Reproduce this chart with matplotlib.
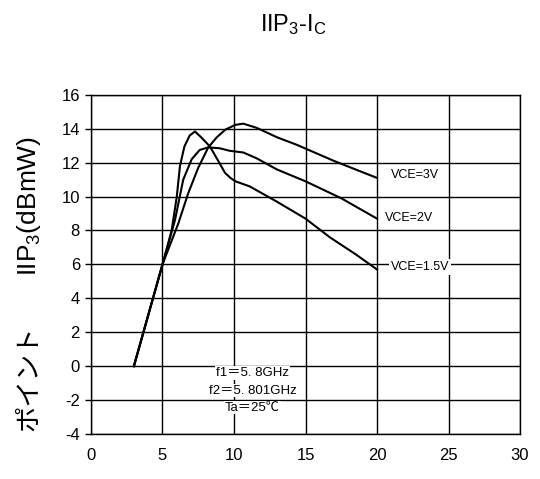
import numpy as np
import matplotlib.pyplot as plt

# IIP3 vs collector current for three VCE values
x_15 = [3, 4, 5, 5.64, 6.0, 6.22, 6.53, 6.9, 7.27, 7.7, 8.32, 8.9, 9.37, 9.75, 10.1, 11.1, 13.0, 15.0, 16.7, 18.5, 20]
y_15 = [0, 3, 6, 8.0, 10.0, 11.8, 12.95, 13.6, 13.84, 13.5, 12.95, 12.1, 11.4, 11.1, 10.9, 10.6, 9.7, 8.7, 7.6, 6.6, 5.7]

x_2 = [3, 4, 5, 5.87, 6.45, 7.04, 7.6, 8.2, 9.0, 9.7, 10.65, 11.6, 13.0, 15.0, 17.5, 20]
y_2 = [0, 3, 6, 8.6, 11.0, 12.2, 12.75, 12.9, 12.85, 12.7, 12.6, 12.25, 11.6, 10.9, 9.9, 8.7]

x_3 = [3, 4, 5, 6.1, 6.8, 7.5, 8.2, 8.8, 9.4, 10.1, 10.65, 11.6, 13.0, 14.4, 17, 20]
y_3 = [0, 3, 6, 8.4, 10.2, 11.7, 12.9, 13.5, 13.95, 14.23, 14.3, 14.05, 13.5, 13.05, 12.1, 11.1]

series_labels = ['VCE=3V', 'VCE=2V', 'VCE=1.5V']
x_ticks = [0, 5, 10, 15, 20, 25, 30]
y_ticks = [-4, -2, 0, 2, 4, 6, 8, 10, 12, 14, 16]
cond_lines = ['f1\uff1d5. 8GHz', 'f2\uff1d5. 801GHz', 'Ta\uff1d25\u2103']

plt.rcParams['font.family'] = ['Liberation Sans', 'Noto Sans CJK JP', 'DejaVu Sans']
plt.rcParams['axes.unicode_minus'] = False
plt.rcParams['mathtext.fontset'] = 'custom'
plt.rcParams['mathtext.rm'] = 'Liberation Sans'
plt.rcParams['mathtext.it'] = 'Liberation Sans'

fig = plt.figure(figsize=(5.4, 4.79), dpi=100)
ax = fig.add_axes([0.1685, 0.094, 0.7945, 0.708])

ax.plot(x_3, y_3, color='black', lw=1.5)
ax.plot(x_2, y_2, color='black', lw=1.5)
ax.plot(x_15, y_15, color='black', lw=1.5)

ax.set_xlim(0, 30)
ax.set_ylim(-4, 16)
ax.set_xticks(x_ticks)
ax.set_yticks(y_ticks)
ax.grid(True, color='black', lw=1.0)
ax.set_axisbelow(True)
ax.tick_params(axis='x', length=0, labelsize=12, pad=10)
ax.tick_params(axis='y', length=4, width=1, labelsize=12, pad=4)
for s in ax.spines.values():
    s.set_color('black')
    s.set_linewidth(1.0)

# curve labels
lab_pos = [(20.96, 11.28), (20.56, 8.72), (20.96, 5.83)]
for (lx, ly), t in zip(lab_pos, series_labels):
    ax.text(lx, ly, t, fontsize=9, va='center', ha='left',
            bbox=dict(facecolor='white', edgecolor='none', pad=1.5))

# measurement conditions
for yy, t in zip([-0.4, -1.45, -2.45], cond_lines):
    ax.text(11.3, yy, t, fontsize=9.5, ha='center', va='center',
            family=['Liberation Sans', 'Noto Sans CJK JP'],
            bbox=dict(facecolor='white', edgecolor='none', pad=0.5))

# y label in two pieces: katakana part + mathtext part
fig.text(0.054, 1 - 378 / 479, '\u30dd\u30a4\u30f3\u30c8', rotation=90, fontsize=19,
         ha='center', va='center', family=['Noto Sans CJK JP'])
fig.text(0.054, 1 - 206 / 479, 'IIP$_3$(dBmW)', rotation=90, fontsize=19,
         ha='center', va='center')
fig.text(0.543, 0.948, 'IIP$_3$-I$_C$', fontsize=17, ha='center', va='center')

fig.savefig('out.png', dpi=100, facecolor='white')
